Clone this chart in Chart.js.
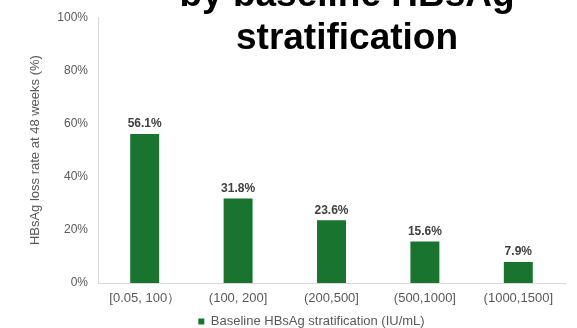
<!DOCTYPE html>
<html>
<head>
<meta charset="utf-8">
<script src="https://cdn.jsdelivr.net/npm/chart.js@4"></script>
<style>
  html, body { margin: 0; padding: 0; background: #fff; }
  #wrap { width: 577px; height: 328px; }
</style>
</head>
<body>
<div id="wrap"><canvas id="c" width="577" height="328"></canvas></div>
<script>
const categories = ['[0.05, 100）', '(100, 200]', '(200,500]', '(500,1000]', '(1000,1500]'];
const lossRate = [56.1, 31.8, 23.6, 15.6, 7.9];
const yTicks = [0, 20, 40, 60, 80, 100];
const titleLines = ['by baseline HBsAg', 'stratification'];

const FONT = "'Liberation Sans', Arial, sans-serif";
const GREEN = '#18742f';
const GREY = '#595959';

// big two-line heading, overlaid on the top of the plot
const heading = {
    id: 'heading',
    afterDraw(chart) {
        const ctx = chart.ctx;
        ctx.save();
        ctx.font = 'bold 37px ' + FONT;
        ctx.fillStyle = '#000';
        ctx.textAlign = 'center';
        ctx.textBaseline = 'alphabetic';
        titleLines.forEach((line, i) => ctx.fillText(line, 347, 6 + i * 43));
        ctx.restore();
    }
};

// percentage above each bar
const barValues = {
    id: 'barValues',
    afterDatasetsDraw(chart) {
        const ctx = chart.ctx;
        const meta = chart.getDatasetMeta(0);
        ctx.save();
        ctx.font = 'bold 12px ' + FONT;
        ctx.fillStyle = '#404040';
        ctx.textAlign = 'center';
        ctx.textBaseline = 'bottom';
        meta.data.forEach((bar, i) => {
            ctx.fillText(lossRate[i].toFixed(1) + '%', bar.x, bar.y - 4);
        });
        ctx.restore();
    }
};

// move the legend right of centre and a little lower
const legendShift = {
    id: 'legendShift',
    afterLayout(chart) {
        const lg = chart.legend;
        const dx = 29, dy = 2;
        lg.left += dx;
        lg.right += dx;
        lg.top += dy;
        lg.bottom += dy;
        lg.legendHitBoxes.forEach(h => { h.left += dx; h.top += dy; });
    }
};

new Chart(document.getElementById('c'), {
    type: 'bar',
    data: {
        labels: categories,
        datasets: [{
            label: 'Baseline HBsAg stratification (IU/mL)',
            data: lossRate,
            backgroundColor: GREEN,
            borderColor: GREEN,
            borderWidth: 0,
            categoryPercentage: 1,
            barPercentage: 0.31
        }]
    },
    options: {
        responsive: false,
        animation: false,
        layout: { padding: { top: 17, right: 12, left: 0, bottom: -8 } },
        plugins: {
            title: { display: false },
            tooltip: { enabled: false },
            legend: {
                position: 'bottom',
                labels: {
                    boxWidth: 6,
                    boxHeight: 6,
                    padding: 3,
                    color: GREY,
                    font: { family: FONT, size: 13 }
                }
            }
        },
        scales: {
            x: {
                grid: { display: false, drawTicks: false },
                border: { display: true, color: '#d9d9d9', width: 1 },
                ticks: {
                    color: GREY,
                    padding: 8,
                    maxRotation: 0,
                    font: { family: FONT, size: 13 }
                },
                afterFit(s) { s.height = 27; }
            },
            y: {
                min: 0,
                max: 100,
                grid: { display: false, drawTicks: false },
                border: { display: true, color: '#d9d9d9', width: 1 },
                afterBuildTicks(s) { s.ticks = yTicks.map(v => ({ value: v })); },
                ticks: {
                    color: GREY,
                    padding: 10,
                    font: { family: FONT, size: 12 },
                    callback: v => v + '%'
                },
                title: {
                    display: true,
                    text: 'HBsAg loss rate at 48 weeks (%)',
                    color: GREY,
                    padding: { top: 28, bottom: 0 },
                    font: { family: FONT, size: 13 }
                },
                afterFit(s) { s.width = 98; }
            }
        }
    },
    plugins: [heading, barValues, legendShift]
});
</script>
</body>
</html>
